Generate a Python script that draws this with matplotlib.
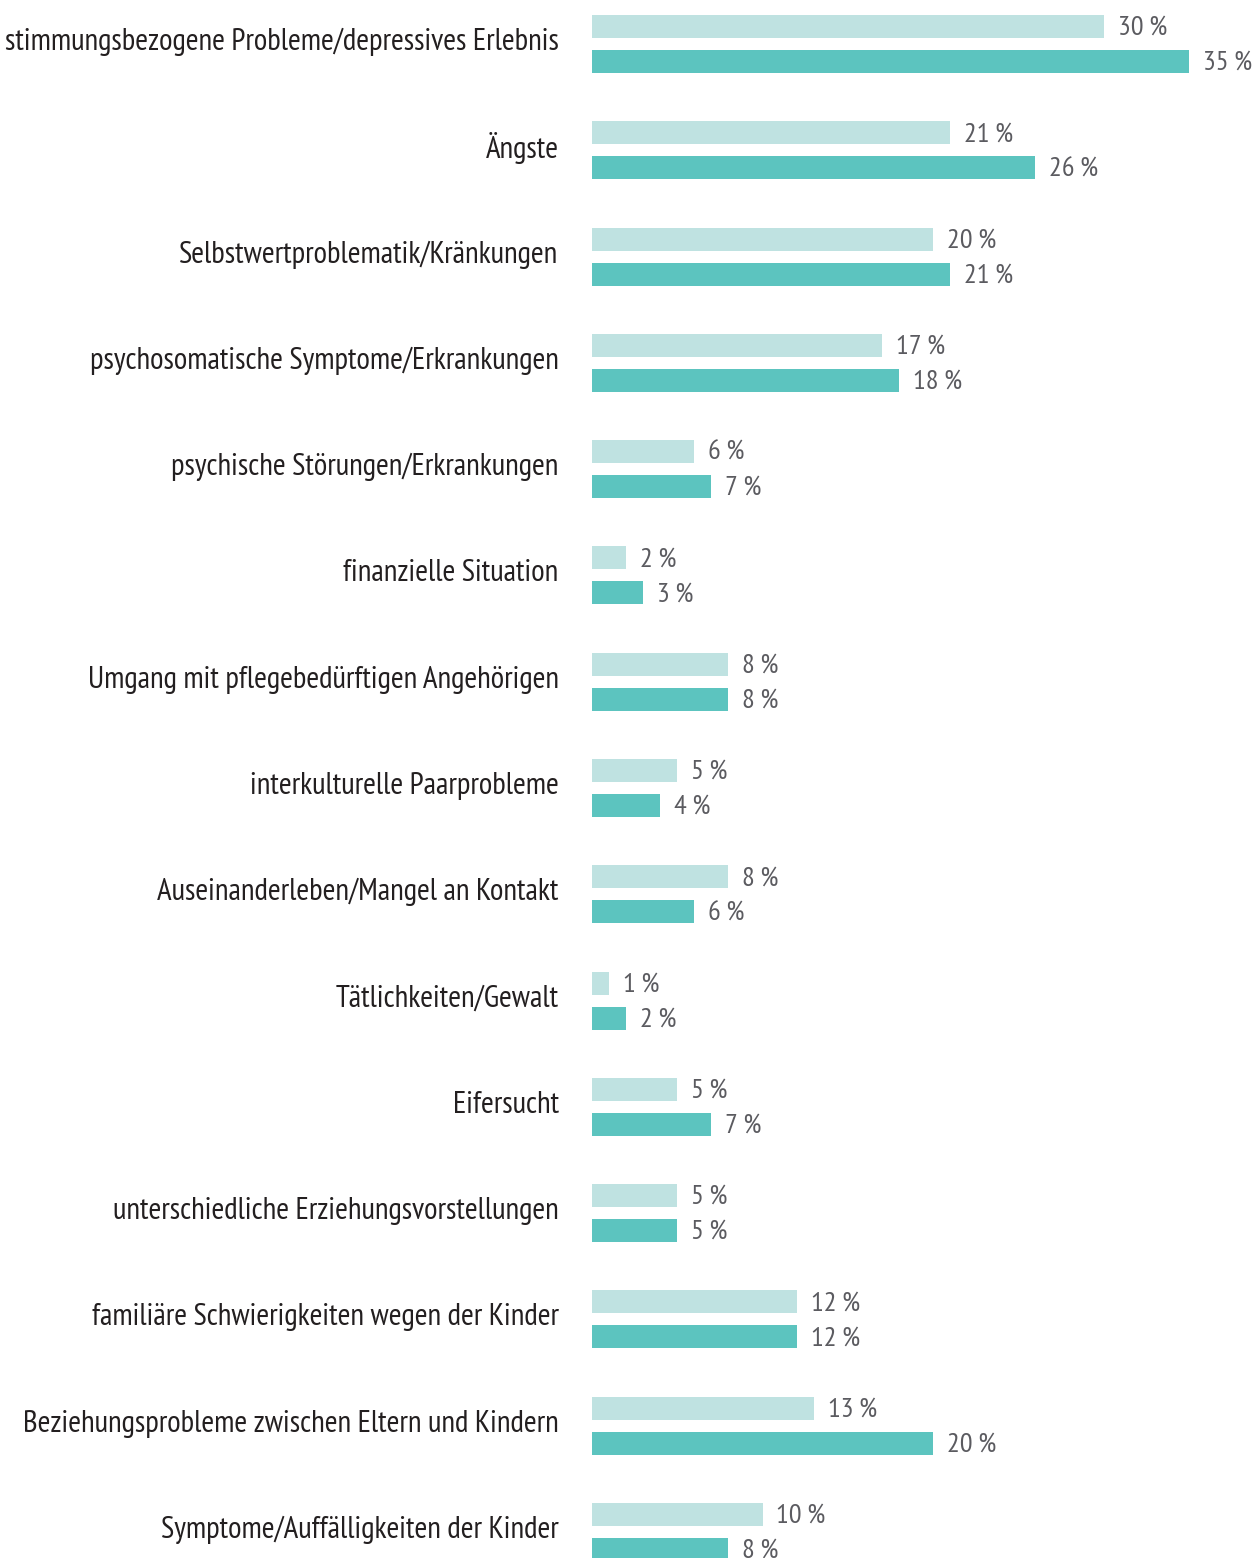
import matplotlib
matplotlib.use("Agg")
import matplotlib.pyplot as plt
from matplotlib import font_manager

categories = [
    "stimmungsbezogene Probleme/depressives Erlebnis",
    "Ängste",
    "Selbstwertproblematik/Kränkungen",
    "psychosomatische Symptome/Erkrankungen",
    "psychische Störungen/Erkrankungen",
    "finanzielle Situation",
    "Umgang mit pflegebedürftigen Angehörigen",
    "interkulturelle Paarprobleme",
    "Auseinanderleben/Mangel an Kontakt",
    "Tätlichkeiten/Gewalt",
    "Eifersucht",
    "unterschiedliche Erziehungsvorstellungen",
    "familiäre Schwierigkeiten wegen der Kinder",
    "Beziehungsprobleme zwischen Eltern und Kindern",
    "Symptome/Auffälligkeiten der Kinder",
]
series_light = [30, 21, 20, 17, 6, 2, 8, 5, 8, 1, 5, 5, 12, 13, 10]
series_dark = [35, 26, 21, 18, 7, 3, 8, 4, 6, 2, 7, 5, 12, 20, 8]

names = {f.name for f in font_manager.fontManager.ttflist}
main = "DejaVu Sans"
for cand in ["PT Sans Narrow", "Fira Sans Extra Condensed", "Roboto Condensed",
             "Fira Sans Condensed", "Asap Condensed"]:
    if cand in names:
        main = cand
        break
fam = [main, "DejaVu Sans"]
plt.rcParams["font.family"] = fam

W, H = 1254, 1558
fig = plt.figure(figsize=(W / 100, H / 100), dpi=100)
left = 592 / W
ax = fig.add_axes([left, 0, 1 - left, 1])
pxper = 597 / 35.0
ax.set_xlim(0, (W - 592) / pxper)
pitch = 106.29
ax.set_ylim((H - 44) / pitch, -44 / pitch)
ax.axis("off")

# calibrate font size so the longest label spans ~551 px as in the reference
renderer = fig.canvas.get_renderer()
probe = fig.text(0, 0, categories[0], fontsize=20)
wpx = probe.get_window_extent(renderer).width
probe.remove()
lab_fs = 20 * 551 / wpx
probe = fig.text(0, 0, "30\u2009%", fontsize=20)
wv = probe.get_window_extent(renderer).width
probe.remove()
val_fs = 20 * 49 / wv

off = 17.5 / pitch
h = 23 / pitch
light = "#bfe2e1"
dark = "#5cc4bf"
for i, (cat, a, b) in enumerate(zip(categories, series_light, series_dark)):
    ax.barh(i - off, a, height=h, color=light, linewidth=0)
    ax.barh(i + off, b, height=h, color=dark, linewidth=0)
    for y, v in ((i - off, a), (i + off, b)):
        ax.annotate(f"{v}\u2009%", (v, y), xytext=(10, -1), textcoords="offset points",
                    ha="left", va="center", fontsize=val_fs, color="#5b5b60",
                    annotation_clip=False)
    ax.annotate(cat, (0, i), xytext=(-24, 1.5), textcoords="offset points",
                ha="right", va="center", fontsize=lab_fs, color="#231f20",
                annotation_clip=False)

fig.savefig("out.png", dpi=100)
